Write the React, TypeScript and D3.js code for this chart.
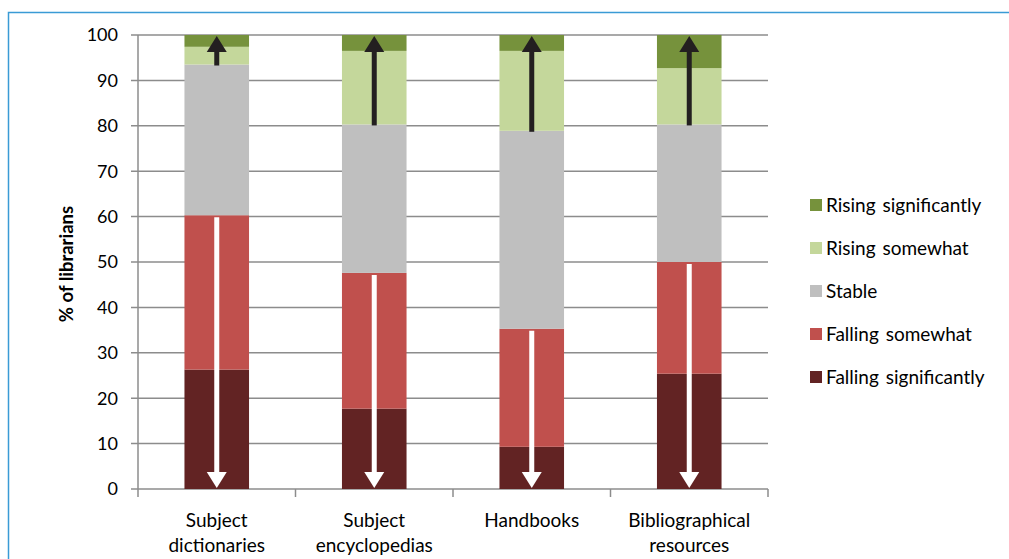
import React, { useEffect, useRef } from "react";
import * as d3 from "d3";

const categories = [
  ["Subject", "dictionaries"],
  ["Subject", "encyclopedias"],
  ["Handbooks"],
  ["Bibliographical", "resources"],
];
const seriesNames = [
  "Falling significantly",
  "Falling somewhat",
  "Stable",
  "Rising somewhat",
  "Rising significantly",
];
const fallingSignificantly = [26.3, 17.7, 9.3, 25.4];
const fallingSomewhat = [34.0, 29.9, 26.0, 24.6];
const stable = [33.2, 32.7, 43.6, 30.3];
const risingSomewhat = [3.9, 16.2, 17.6, 12.4];
const risingSignificantly = [2.6, 3.5, 3.5, 7.3];
const colors = ["#622323", "#c0504d", "#bfbfbf", "#c4d79b", "#76923c"];
const yTicks = d3.range(0, 101, 10);

const font = "Lato, 'Open Sans', sans-serif";

const App = () => {
  const ref = useRef(null);

  useEffect(() => {
    const svg = d3.select(ref.current);
    svg.selectAll("*").remove();

    const x = d3
      .scaleBand()
      .domain(categories.map((d, i) => String(i)))
      .range([138, 768])
      .paddingInner(0.59)
      .paddingOuter(0.295);
    const y = d3.scaleLinear().domain([0, 100]).range([489, 35]);

    // frame
    svg
      .append("rect")
      .attr("x", 8.5)
      .attr("y", 12.5)
      .attr("width", 1100)
      .attr("height", 700)
      .attr("fill", "none")
      .attr("stroke", "#3a9bd5")
      .attr("stroke-width", 1.5);

    // gridlines + y ticks
    const g = svg.append("g");
    yTicks.forEach((t) => {
      g.append("line")
        .attr("x1", 131)
        .attr("x2", 768)
        .attr("y1", y(t))
        .attr("y2", y(t))
        .attr("stroke", "#8c8c8c")
        .attr("stroke-width", 1.5);
      g.append("text")
        .attr("x", 118)
        .attr("y", y(t))
        .attr("dy", "0.35em")
        .attr("text-anchor", "end")
        .attr("font-family", font)
        .attr("font-size", 18)
        .attr("fill", "#000")
        .text(t);
    });
    g.append("line")
      .attr("x1", 138)
      .attr("x2", 138)
      .attr("y1", y(100))
      .attr("y2", y(0))
      .attr("stroke", "#8c8c8c")
      .attr("stroke-width", 1.5);

    // x axis ticks at band boundaries
    const step = x.step();
    d3.range(0, categories.length + 1).forEach((i) => {
      const xx = 138 + i * step;
      g.append("line")
        .attr("x1", xx)
        .attr("x2", xx)
        .attr("y1", y(0))
        .attr("y2", y(0) + 8)
        .attr("stroke", "#8c8c8c")
        .attr("stroke-width", 1.5);
    });

    svg
      .append("text")
      .attr("transform", `translate(67,264) rotate(-90)`)
      .attr("text-anchor", "middle")
      .attr("dy", "0.35em")
      .attr("font-family", font)
      .attr("font-weight", "bold")
      .attr("font-size", 18.5)
      .text("% of librarians");

    // stacked bars
    const rows = categories.map((c, i) => ({
      key: String(i),
      [seriesNames[0]]: fallingSignificantly[i],
      [seriesNames[1]]: fallingSomewhat[i],
      [seriesNames[2]]: stable[i],
      [seriesNames[3]]: risingSomewhat[i],
      [seriesNames[4]]: risingSignificantly[i],
    }));
    const stack = d3.stack().keys(seriesNames)(rows);

    stack.forEach((layer, li) => {
      svg
        .append("g")
        .selectAll("rect")
        .data(layer)
        .enter()
        .append("rect")
        .attr("x", (d) => x(d.data.key))
        .attr("width", x.bandwidth())
        .attr("y", (d) => y(d[1]))
        .attr("height", (d) => y(d[0]) - y(d[1]))
        .attr("fill", colors[li]);
    });

    // arrows
    const arrow = (cx, yFrom, yTo, color) => {
      const dir = yTo > yFrom ? 1 : -1;
      const headLen = 16;
      const headW = 10;
      const a = svg.append("g");
      a.append("line")
        .attr("x1", cx)
        .attr("x2", cx)
        .attr("y1", yFrom)
        .attr("y2", yTo - dir * headLen)
        .attr("stroke", color)
        .attr("stroke-width", 5);
      a.append("path")
        .attr(
          "d",
          `M${cx},${yTo} L${cx - headW},${yTo - dir * headLen} L${cx + headW},${yTo - dir * headLen} Z`
        )
        .attr("fill", color);
    };
    rows.forEach((r, i) => {
      const cx = x(r.key) + x.bandwidth() / 2;
      const fallTop = fallingSignificantly[i] + fallingSomewhat[i];
      const stableTop = fallTop + stable[i];
      arrow(cx, y(fallTop) + 2, y(0) - 1, "#ffffff");
      arrow(cx, y(stableTop) + 1, y(100) + 1, "#231f20");
    });

    // x labels
    categories.forEach((lines, i) => {
      const cx = x(String(i)) + x.bandwidth() / 2;
      lines.forEach((ln, j) => {
        svg
          .append("text")
          .attr("x", cx)
          .attr("y", 520 + j * 25)
          .attr("dy", "0.35em")
          .attr("text-anchor", "middle")
          .attr("font-family", font)
          .attr("font-size", 19)
          .text(ln);
      });
    });

    // legend
    const legendOrder = seriesNames.slice().reverse();
    legendOrder.forEach((name, i) => {
      const ly = 205 + i * 43;
      const ci = seriesNames.indexOf(name);
      svg
        .append("rect")
        .attr("x", 810)
        .attr("y", ly - 6)
        .attr("width", 12)
        .attr("height", 12)
        .attr("fill", colors[ci]);
      svg
        .append("text")
        .attr("x", 826)
        .attr("y", ly)
        .attr("dy", "0.35em")
        .attr("font-family", font)
        .attr("font-size", 19)
        .attr("word-spacing", 2)
        .text(name);
    });
  }, []);

  return (
    <svg
      ref={ref}
      width={1009}
      height={559}
      style={{ position: "absolute", left: 0, top: 0, background: "#fff" }}
    />
  );
};

export default App;
